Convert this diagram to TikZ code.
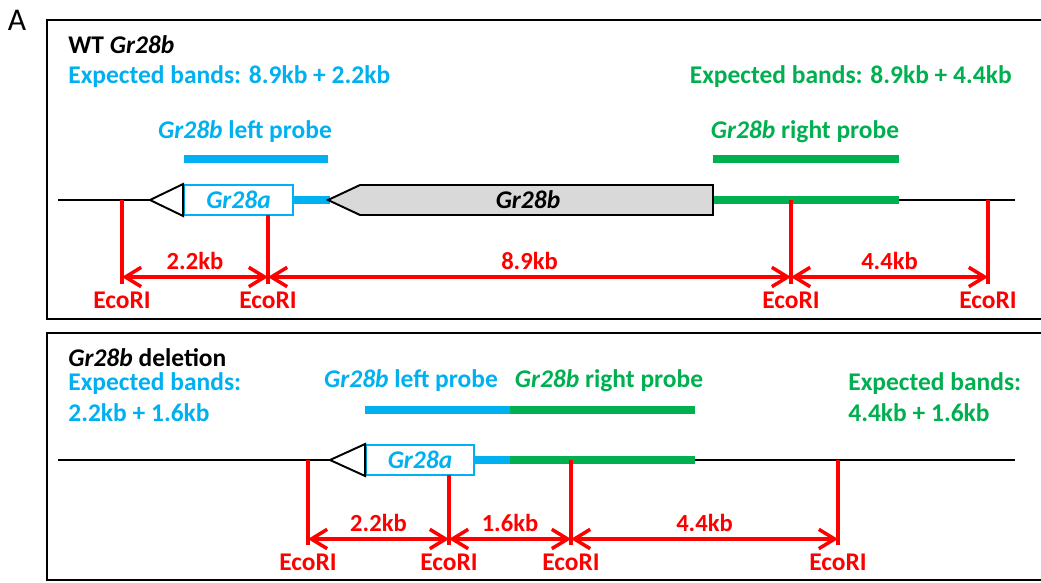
\documentclass[tikz,border=0pt]{standalone}
\usepackage{fontspec}
\setmainfont{Carlito}
\usepackage{xcolor}
\definecolor{probecyan}{HTML}{00B0F0}
\definecolor{probegreen}{HTML}{00B050}
\definecolor{sitered}{HTML}{FF0000}
\definecolor{genegrey}{HTML}{D9D9D9}
\usetikzlibrary{arrows.meta, positioning, calc}

\begin{document}
\begin{tikzpicture}[
        x=0.02cm, y=-0.02cm,
        font=\fontsize{14.5}{17}\selectfont\bfseries,
        panel_box/.style={
            draw=black, 
            line width=1.2pt
        },
        dna_line/.style={
            draw=black, 
            line width=1.6pt
        },
        probe_bar/.style={
            line width=4.6pt
        },
        gene_box/.style={
            rectangle, 
            draw=probecyan, 
            fill=white, 
            line width=1.1pt,
            minimum width=2.18cm, 
            minimum height=0.6cm,
            inner sep=0pt,
            text=probecyan,
            font=\fontsize{14.5}{17}\selectfont\bfseries\itshape
        },
        gene_arrow/.style={
            draw=black, 
            line width=1.1pt,
            line join=miter
        },
        site_line/.style={
            draw=sitered, 
            line width=2pt
        },
        band_arrow/.style={
            {Straight Barb[length=9pt, width=11pt]}-{Straight Barb[length=9pt, width=11pt]}, 
            draw=sitered, 
            line width=2pt
        },
        band_label/.style={
            midway, above=3pt, inner sep=0pt, text=sitered,
            font=\fontsize{14}{16}\selectfont\bfseries
        },
        site_label/.style={
            inner sep=0pt, text=sitered,
            font=\fontsize{14.5}{16}\selectfont\bfseries
        },
        plain_text/.style={
            anchor=west, inner sep=0pt
        }
    ]

    \useasboundingbox (0,0) rectangle (1041,582);
    \clip (0,0) rectangle (1041,582);

    \node[font=\fontsize{18}{20}\selectfont] (panel_tag) at (17,20) {A};

    % Panel frames (cut off at the right)
    \draw[panel_box] (47,20) rectangle (1070,319);
    \draw[panel_box] (47,333) rectangle (1070,580);

    %%%%% WT panel
    \node[plain_text] (wt_title) at (68,45) {WT \textit{Gr28b}};
    \node[plain_text, text=probecyan] (wt_left_bands) at (68,77) {Expected bands: 8.9kb + 2.2kb};
    \node[plain_text, anchor=east, text=probegreen] (wt_right_bands) at (1012,77) {Expected bands: 8.9kb + 4.4kb};

    % Probes
    \node[text=probecyan, inner sep=0pt] (wt_left_probe) at (245,132) {\textit{Gr28b} left probe};
    \node[text=probegreen, inner sep=0pt] (wt_right_probe) at (805,132) {\textit{Gr28b} right probe};
    \draw[probe_bar, probecyan] (184,159) -- (328,159);
    \draw[probe_bar, probegreen] (713,159) -- (899,159);

    % Locus
    \draw[dna_line] (58,200) -- (1015,200);
    \draw[probe_bar, probecyan] (290,200) -- (330,200);
    \draw[probe_bar, probegreen] (713,200) -- (899,200);
    \node[gene_box] (wt_gr28a) at (238.5,200) {Gr28a};
    \draw[gene_arrow, fill=white] (150,200) -- (wt_gr28a.north west) -- (wt_gr28a.south west) -- cycle;
    \draw[gene_arrow, fill=genegrey] (328,200) -- (360,185) -- (713,185) -- (713,215) -- (360,215) -- cycle;
    \node[inner sep=0pt, font=\fontsize{14.5}{17}\selectfont\bfseries\itshape] (wt_gr28b) at (528,200) {Gr28b};

    % EcoRI sites
    \foreach \name/\x/\ytop in {w1/122/200, w2/268/215, w3/791/200, w4/988/200} {
        \coordinate (\name_top) at (\x,\ytop);
        \coordinate (\name_end) at (\x,284);
        \coordinate (\name_dim) at (\x,277);
        \node[site_label] (\name_label) at (\x,300) {EcoRI};
        \draw[site_line] (\name_top) -- (\name_end);
    }
    \draw[band_arrow] (w1_dim) -- (w2_dim) node[band_label] {2.2kb};
    \draw[band_arrow] (w2_dim) -- (w3_dim) node[band_label] {8.9kb};
    \draw[band_arrow] (w3_dim) -- (w4_dim) node[band_label] {4.4kb};

    %%%%% Deletion panel
    \node[plain_text] (del_title) at (68,358) {\textit{Gr28b} deletion};
    \node[plain_text, text=probecyan] (del_left_bands) at (68,384) {Expected bands:};
    \node[plain_text, text=probecyan] (del_left_sizes) at (68,413) {2.2kb + 1.6kb};
    \node[plain_text, text=probegreen] (del_right_bands) at (848,384) {Expected bands:};
    \node[plain_text, text=probegreen] (del_right_sizes) at (848,413) {4.4kb + 1.6kb};

    % Probes
    \node[text=probecyan, inner sep=0pt] (del_left_probe) at (411,381) {\textit{Gr28b} left probe};
    \node[text=probegreen, inner sep=0pt] (del_right_probe) at (609,381) {\textit{Gr28b} right probe};
    \draw[probe_bar, probecyan] (365,410) -- (510,410);
    \draw[probe_bar, probegreen] (510,410) -- (695,410);

    % Locus
    \draw[dna_line] (58,460) -- (1015,460);
    \draw[probe_bar, probecyan] (472,460) -- (510,460);
    \draw[probe_bar, probegreen] (510,460) -- (695,460);
    \node[gene_box, minimum width=2.16cm] (del_gr28a) at (420,460) {Gr28a};
    \draw[gene_arrow, fill=white] (330,460) -- (del_gr28a.north west) -- (del_gr28a.south west) -- cycle;

    % EcoRI sites
    \foreach \name/\x/\ytop in {d1/308/460, d2/449/475, d3/571/460, d4/838/460} {
        \coordinate (\name_top) at (\x,\ytop);
        \coordinate (\name_end) at (\x,545);
        \coordinate (\name_dim) at (\x,539);
        \node[site_label] (\name_label) at (\x,562) {EcoRI};
        \draw[site_line] (\name_top) -- (\name_end);
    }
    \draw[band_arrow] (d1_dim) -- (d2_dim) node[band_label] {2.2kb};
    \draw[band_arrow] (d2_dim) -- (d3_dim) node[band_label] {1.6kb};
    \draw[band_arrow] (d3_dim) -- (d4_dim) node[band_label] {4.4kb};

\end{tikzpicture}
\end{document}
